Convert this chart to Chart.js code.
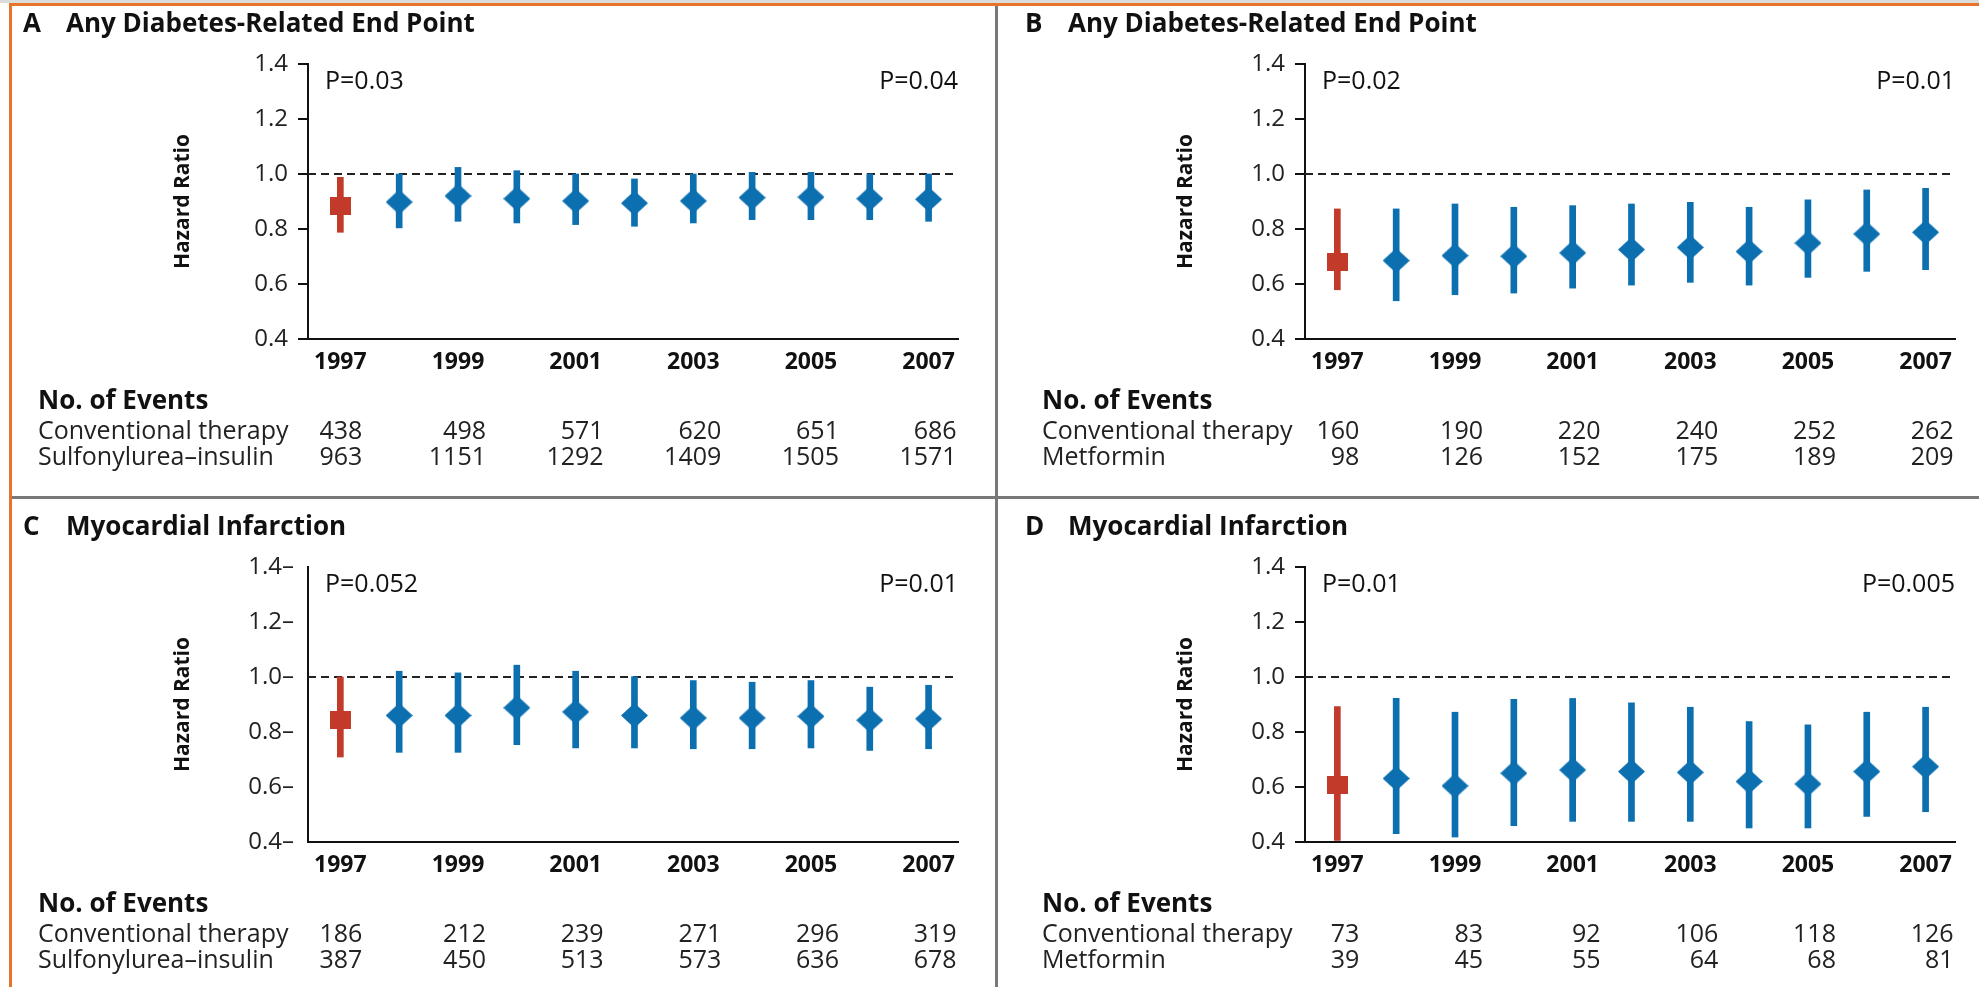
<!DOCTYPE html>
<html>
<head>
<meta charset="utf-8">
<script src="https://cdn.jsdelivr.net/npm/chart.js@4.4.1/dist/chart.umd.min.js"></script>
<style>
  html, body { margin: 0; padding: 0; background: #fff; width: 1979px; height: 987px; overflow: hidden; }
  .panel { position: absolute; }
  .rule { position: absolute; }
</style>
</head>
<body>
<div class="panel" style="left:0;top:0"><canvas id="chartA" width="995" height="497"></canvas></div>
<div class="panel" style="left:997px;top:0"><canvas id="chartB" width="982" height="497"></canvas></div>
<div class="panel" style="left:0;top:503px"><canvas id="chartC" width="995" height="484"></canvas></div>
<div class="panel" style="left:997px;top:503px"><canvas id="chartD" width="982" height="484"></canvas></div>

<div class="rule" style="left:0;top:0;width:1979px;height:3px;background:#dcdcdc"></div>
<div class="rule" style="left:9px;top:3px;width:1970px;height:3px;background:#e8732a"></div>
<div class="rule" style="left:9px;top:3px;width:3px;height:984px;background:#e8732a"></div>
<div class="rule" style="left:995px;top:6px;width:3px;height:981px;background:#787878"></div>
<div class="rule" style="left:12px;top:496px;width:1967px;height:3px;background:#787878"></div>

<script>
// years of follow-up, hazard ratio points
const years = [1997, 1998, 1999, 2000, 2001, 2002, 2003, 2004, 2005, 2006, 2007];
const tickYears = [1997, 1999, 2001, 2003, 2005, 2007];
const yTicks = [0.4, 0.6, 0.8, 1.0, 1.2, 1.4];
const refLine = 1.0;

// A: sulfonylurea-insulin, any diabetes-related end point
const hrA = [0.882, 0.898, 0.920, 0.910, 0.902, 0.894, 0.902, 0.914, 0.916, 0.910, 0.908];
const loA = [0.788, 0.804, 0.828, 0.822, 0.816, 0.810, 0.822, 0.834, 0.834, 0.834, 0.828];
const hiA = [0.988, 1.000, 1.024, 1.012, 1.000, 0.982, 1.000, 1.006, 1.006, 1.000, 1.000];

// B: metformin, any diabetes-related end point
const hrB = [0.681, 0.685, 0.703, 0.701, 0.713, 0.725, 0.733, 0.718, 0.749, 0.782, 0.788];
const loB = [0.579, 0.539, 0.561, 0.567, 0.585, 0.596, 0.606, 0.596, 0.624, 0.646, 0.652];
const hiB = [0.873, 0.873, 0.891, 0.879, 0.885, 0.891, 0.897, 0.879, 0.906, 0.942, 0.948];

// C: sulfonylurea-insulin, myocardial infarction
const hrC = [0.843, 0.860, 0.860, 0.888, 0.873, 0.860, 0.851, 0.851, 0.857, 0.843, 0.848];
const loC = [0.709, 0.726, 0.726, 0.754, 0.742, 0.742, 0.739, 0.739, 0.742, 0.733, 0.739];
const hiC = [1.000, 1.021, 1.015, 1.043, 1.021, 1.001, 0.987, 0.981, 0.987, 0.963, 0.970];

// D: metformin, myocardial infarction
const hrD = [0.608, 0.631, 0.604, 0.650, 0.662, 0.656, 0.653, 0.620, 0.611, 0.656, 0.674];
const loD = [0.406, 0.430, 0.418, 0.459, 0.475, 0.475, 0.475, 0.451, 0.451, 0.493, 0.510];
const hiD = [0.892, 0.922, 0.872, 0.919, 0.922, 0.906, 0.890, 0.838, 0.826, 0.872, 0.890];

// no. of events (at tickYears)
const convA = [438, 498, 571, 620, 651, 686];
const suA = [963, 1151, 1292, 1409, 1505, 1571];
const convB = [160, 190, 220, 240, 252, 262];
const metB = [98, 126, 152, 175, 189, 209];
const convC = [186, 212, 239, 271, 296, 319];
const suC = [387, 450, 513, 573, 636, 678];
const convD = [73, 83, 92, 106, 118, 126];
const metD = [39, 45, 55, 64, 68, 81];

const BLUE = '#0b6fb0';
const RED = '#c23a2a';
const FONT = '"Open Sans", "Noto Sans", sans-serif';

function makeMarker(w, h, color, diamond) {
    const c = document.createElement('canvas');
    c.width = w;
    c.height = h;
    const g = c.getContext('2d');
    g.fillStyle = color;
    if (diamond) {
        g.beginPath();
        g.moveTo(w / 2, 0);
        g.lineTo(w, h / 2);
        g.lineTo(w / 2, h);
        g.lineTo(0, h / 2);
        g.closePath();
        g.fill();
    } else {
        g.fillRect(0, 0, w, h);
    }
    return c;
}
const diamondImg = makeMarker(27, 25, BLUE, true);
const squareImg = makeMarker(21, 18, RED, false);

// titles, axis title, p values and the events table
const panelText = {
    id: 'panelText',
    afterDraw(chart, args, o) {
        const { ctx, chartArea, scales: { x } } = chart;
        ctx.save();
        ctx.fillStyle = '#111';
        ctx.textBaseline = 'middle';
        ctx.textAlign = 'left';
        ctx.font = 'bold 26px ' + FONT;
        ctx.fillText(o.letter, o.letterX, 25);
        ctx.fillText(o.title, o.letterX + 43, 25);

        // y axis title
        ctx.save();
        ctx.translate(o.hrX, (chartArea.top + chartArea.bottom) / 2);
        ctx.rotate(-Math.PI / 2);
        ctx.textAlign = 'center';
        ctx.font = 'bold 21px ' + FONT;
        ctx.fillText('Hazard Ratio', 0, 0);
        ctx.restore();

        ctx.font = '25px ' + FONT;
        ctx.fillText(o.pLeft, chartArea.left + 17, 82);
        ctx.textAlign = 'right';
        ctx.fillText(o.pRight, chartArea.right, 82);

        ctx.textAlign = 'left';
        ctx.font = 'bold 26px ' + FONT;
        ctx.fillText('No. of Events', o.tableX, 402);
        ctx.font = '25px ' + FONT;
        ctx.fillStyle = '#222';
        ctx.fillText('Conventional therapy', o.tableX, 432);
        ctx.fillText(o.row2Label, o.tableX, 458);
        ctx.textAlign = 'right';
        tickYears.forEach((yr, i) => {
            const px = x.getPixelForValue(yr) + (i === 0 ? 22 : 28);
            ctx.fillText(String(o.row1[i]), px, 432);
            ctx.fillText(String(o.row2[i]), px, 458);
        });
        ctx.restore();
    }
};

function makePanel(id, o, hr, lo, hi) {
    const canvas = document.getElementById(id);
    const W = canvas.width, H = canvas.height;
    const xMin = 1996.45, xMax = 2007.5;
    return new Chart(canvas, {
        type: 'bar',
        data: {
            datasets: [
                {
                    type: 'line',
                    data: [{ x: xMin, y: refLine }, { x: xMax, y: refLine }],
                    borderColor: '#222',
                    borderWidth: 2,
                    borderDash: [8, 5],
                    pointRadius: 0,
                    order: 3
                },
                {
                    type: 'bar',
                    data: years.map((yr, i) => ({ x: yr, y: [lo[i], hi[i]] })),
                    backgroundColor: years.map((yr, i) => (i === 0 ? RED : BLUE)),
                    barThickness: 6,
                    order: 2
                },
                {
                    type: 'line',
                    showLine: false,
                    data: years.map((yr, i) => ({ x: yr, y: hr[i] })),
                    pointStyle: years.map((yr, i) => (i === 0 ? squareImg : diamondImg)),
                    pointRadius: 13,
                    clip: false,
                    order: 1
                }
            ]
        },
        options: {
            responsive: false,
            animation: false,
            layout: { padding: { left: 0, top: 64, right: W - 958, bottom: H - 339 - 40 } },
            plugins: {
                legend: { display: false },
                tooltip: { enabled: false },
                panelText: o
            },
            scales: {
                x: {
                    type: 'linear',
                    min: xMin,
                    max: xMax,
                    offset: false,
                    grid: { display: false, offset: false },
                    border: { color: '#111', width: 2 },
                    afterBuildTicks: (s) => { s.ticks = tickYears.map((v) => ({ value: v })); },
                    afterFit: (s) => { s.height = 40; },
                    ticks: {
                        color: '#111',
                        padding: 2,
                        maxRotation: 0,
                        font: { family: FONT, size: 23, weight: 'bold' },
                        callback: (v) => String(v)
                    }
                },
                y: {
                    type: 'linear',
                    min: 0.4,
                    max: 1.4,
                    grid: {
                        drawOnChartArea: false,
                        drawTicks: !o.dashTicks,
                        tickLength: 10,
                        color: '#111',
                        lineWidth: 2
                    },
                    border: { color: '#111', width: 2 },
                    afterBuildTicks: (s) => { s.ticks = yTicks.map((v) => ({ value: v })); },
                    afterFit: (s) => { s.width = 308; },
                    ticks: {
                        color: '#222',
                        padding: o.dashTicks ? 14 : 10,
                        font: { family: FONT, size: 24 },
                        callback: (v) => v.toFixed(1) + (o.dashTicks ? '\u2013' : '')
                    }
                }
            }
        },
        plugins: [panelText]
    });
}

makePanel('chartA', {
    letter: 'A', letterX: 23, hrX: 183, title: 'Any Diabetes-Related End Point',
    pLeft: 'P=0.03', pRight: 'P=0.04', tableX: 38,
    row2Label: 'Sulfonylurea\u2013insulin', row1: convA, row2: suA
}, hrA, loA, hiA);

makePanel('chartB', {
    letter: 'B', letterX: 28, hrX: 189, title: 'Any Diabetes-Related End Point',
    pLeft: 'P=0.02', pRight: 'P=0.01', tableX: 45,
    row2Label: 'Metformin', row1: convB, row2: metB
}, hrB, loB, hiB);

makePanel('chartC', {
    letter: 'C', letterX: 23, hrX: 183, title: 'Myocardial Infarction',
    pLeft: 'P=0.052', pRight: 'P=0.01', tableX: 38, dashTicks: true,
    row2Label: 'Sulfonylurea\u2013insulin', row1: convC, row2: suC
}, hrC, loC, hiC);

makePanel('chartD', {
    letter: 'D', letterX: 28, hrX: 189, title: 'Myocardial Infarction',
    pLeft: 'P=0.01', pRight: 'P=0.005', tableX: 45,
    row2Label: 'Metformin', row1: convD, row2: metD
}, hrD, loD, hiD);
</script>
</body>
</html>
